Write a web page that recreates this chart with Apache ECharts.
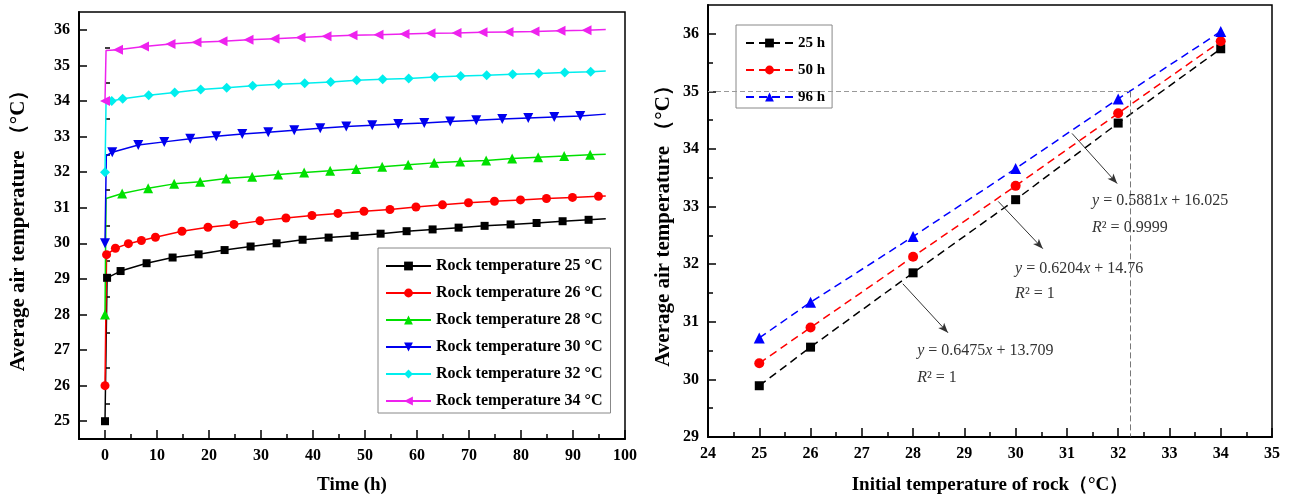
<!DOCTYPE html>
<html>
<head>
<meta charset="utf-8">
<script src="https://cdn.jsdelivr.net/npm/echarts@6/dist/echarts.min.js"></script>
<style>
  html, body { margin: 0; padding: 0; background: #fff; }
  #chart { width: 1290px; height: 502px; }
</style>
</head>
<body>
<div id="chart"></div>
<script>
// ---- left panel: air temperature vs time ----
var timeTicks = [0, 10, 20, 30, 40, 50, 60, 70, 80, 90, 100];
var timeMinor = [5, 15, 25, 35, 45, 55, 65, 75, 85, 95];
var airTicks = [25, 26, 27, 28, 29, 30, 31, 32, 33, 34, 35, 36];
var airMinor = [25.5, 26.5, 27.5, 28.5, 29.5, 30.5, 31.5, 32.5, 33.5, 34.5, 35.5];

var rockNames = ['Rock temperature 25 °C', 'Rock temperature 26 °C', 'Rock temperature 28 °C',
  'Rock temperature 30 °C', 'Rock temperature 32 °C', 'Rock temperature 34 °C'];

// points drawn with a marker
var rock25 = [[0, 25], [0.4, 29.03], [3, 29.22], [8, 29.44], [13, 29.6], [18, 29.69], [23, 29.81], [28, 29.91],
  [33, 30.0], [38, 30.1], [43, 30.16], [48, 30.21], [53, 30.27], [58, 30.34], [63, 30.39], [68, 30.44],
  [73, 30.49], [78, 30.53], [83, 30.57], [88, 30.62], [93, 30.66]];
var rock26 = [[0, 26], [0.3, 29.68], [2, 29.86], [4.5, 29.99], [7, 30.08], [9.7, 30.17], [14.8, 30.34], [19.8, 30.45],
  [24.8, 30.53], [29.8, 30.63], [34.8, 30.71], [39.8, 30.78], [44.8, 30.84], [49.8, 30.9], [54.8, 30.95],
  [59.8, 31.02], [64.9, 31.08], [69.9, 31.14], [74.9, 31.18], [79.9, 31.22], [84.9, 31.26], [89.9, 31.29], [94.9, 31.32]];
var rock28 = [[0, 28], [3.3, 31.4], [8.3, 31.55], [13.3, 31.67], [18.3, 31.73], [23.3, 31.82], [28.3, 31.87],
  [33.3, 31.93], [38.3, 31.99], [43.3, 32.04], [48.3, 32.09], [53.3, 32.15], [58.3, 32.21], [63.3, 32.26],
  [68.3, 32.3], [73.3, 32.33], [78.3, 32.38], [83.3, 32.42], [88.3, 32.45], [93.3, 32.49]];
var rock30 = [[0, 30], [1.4, 32.56], [6.4, 32.76], [11.4, 32.85], [16.4, 32.94], [21.4, 33.01], [26.4, 33.07],
  [31.4, 33.12], [36.4, 33.18], [41.4, 33.23], [46.4, 33.28], [51.4, 33.32], [56.4, 33.35], [61.4, 33.38],
  [66.4, 33.42], [71.4, 33.46], [76.4, 33.49], [81.4, 33.52], [86.4, 33.55], [91.4, 33.58]];
var rock32 = [[0, 32], [1.3, 34.0], [3.4, 34.06], [8.4, 34.16], [13.4, 34.24], [18.4, 34.32], [23.4, 34.37],
  [28.4, 34.43], [33.4, 34.47], [38.4, 34.5], [43.4, 34.53], [48.4, 34.58], [53.4, 34.61], [58.4, 34.63],
  [63.4, 34.67], [68.4, 34.7], [73.4, 34.72], [78.4, 34.75], [83.4, 34.77], [88.4, 34.8], [93.4, 34.82]];
var rock34 = [[0, 34], [2.5, 35.44], [7.5, 35.53], [12.6, 35.6], [17.6, 35.65], [22.6, 35.68], [27.6, 35.72],
  [32.6, 35.75], [37.6, 35.78], [42.6, 35.82], [47.6, 35.85], [52.6, 35.86], [57.6, 35.88], [62.6, 35.9],
  [67.6, 35.91], [72.6, 35.93], [77.6, 35.94], [82.6, 35.95], [87.6, 35.97], [92.6, 35.99]];
// points on the curve without a marker (jump top, curve end)
var rock25Bare = [[96.3, 30.69]];
var rock26Bare = [[96.3, 31.33]];
var rock28Bare = [[0.2, 31.26], [96.3, 32.5]];
var rock30Bare = [[0.25, 32.46], [96.3, 33.63]];
var rock32Bare = [[0.2, 33.97], [96.3, 34.84]];
var rock34Bare = [[0.2, 35.42], [96.3, 36.01]];

// ---- right panel: air temperature vs initial rock temperature ----
var rockInit = [25, 26, 28, 30, 32, 34];
var h25 = [29.89, 30.56, 31.85, 33.12, 34.45, 35.74];
var h50 = [30.28, 30.9, 32.13, 33.36, 34.62, 35.87];
var h96 = [30.72, 31.34, 32.48, 33.66, 34.87, 36.04];
var hourNames = ['25 h', '50 h', '96 h'];
var initTicks = [24, 25, 26, 27, 28, 29, 30, 31, 32, 33, 34, 35];
var initMinor = [24.5, 25.5, 26.5, 27.5, 28.5, 29.5, 30.5, 31.5, 32.5, 33.5, 34.5];
var air2Ticks = [29, 30, 31, 32, 33, 34, 35, 36];
var air2Minor = [29.5, 30.5, 31.5, 32.5, 33.5, 34.5, 35.5];
var refTemp = 32.23, refAir = 35;

var serif = "'Liberation Serif', 'Times New Roman', serif";

function buildCurve(marks, bare) {
  var pts = marks.map(function (p) { return { value: p }; })
    .concat(bare.map(function (p) { return { value: p, symbol: 'none' }; }));
  pts.sort(function (a, b) { return a.value[0] - b.value[0]; });
  return pts;
}

function mainAxis(grid, min, max, ticks, isY) {
  return {
    type: 'value', gridIndex: grid, min: min, max: max,
    axisLine: { show: true, onZero: false, lineStyle: { color: '#000', width: 2 } },
    axisTick: { show: true, inside: true, length: isY ? 8 : 9, customValues: ticks, lineStyle: { color: '#000', width: 1.5 } },
    axisLabel: { customValues: ticks, margin: 9, color: '#000', fontFamily: serif, fontWeight: 'bold', fontSize: 16 },
    splitLine: { show: false }
  };
}
function minorAxis(grid, min, max, ticks) {
  return {
    type: 'value', gridIndex: grid, min: min, max: max,
    axisLine: { show: false },
    axisTick: { show: true, inside: true, length: 5, customValues: ticks, lineStyle: { color: '#000', width: 1.5 } },
    axisLabel: { show: false },
    splitLine: { show: false }
  };
}

var leftGrid = { left: 79, top: 12, width: 546, height: 427 };
var rightGrid = { left: 708, top: 5, width: 564, height: 432 };

var xAxes = [
  mainAxis(0, -5, 100, timeTicks, false),
  minorAxis(1, -5, 100, timeMinor),
  mainAxis(2, 24, 35, initTicks, false),
  minorAxis(3, 24, 35, initMinor)
];
var yAxes = [
  mainAxis(0, 24.5, 36.5, airTicks, true),
  minorAxis(1, 24.5, 36.5, airMinor),
  mainAxis(2, 29, 36.5, air2Ticks, true),
  minorAxis(3, 29, 36.5, air2Minor)
];
var titleStyle = { color: '#000', fontFamily: serif, fontWeight: 'bold', fontSize: 19 };
var yTitleStyle = Object.assign({}, titleStyle, { fontSize: 21 });
xAxes[0].name = 'Time (h)'; xAxes[0].nameLocation = 'middle'; xAxes[0].nameGap = 37; xAxes[0].nameTextStyle = titleStyle;
xAxes[2].name = 'Initial temperature of rock（°C）'; xAxes[2].nameLocation = 'middle'; xAxes[2].nameGap = 39; xAxes[2].nameTextStyle = titleStyle;
yAxes[0].name = 'Average air temperature （°C）'; yAxes[0].nameLocation = 'middle'; yAxes[0].nameGap = 50; yAxes[0].nameTextStyle = yTitleStyle;
yAxes[2].name = 'Average air temperature （°C）'; yAxes[2].nameLocation = 'middle'; yAxes[2].nameGap = 34; yAxes[2].nameTextStyle = yTitleStyle;

var rockColors = ['#000000', '#ff0000', '#00e000', '#0000ee', '#00eeee', '#ee22ee'];
var rockSymbols = ['rect', 'circle', 'triangle', 'triangle', 'diamond', 'triangle'];
var rockRotate = [0, 0, 0, 180, 0, 90];
var rockSizes = [8, 9, 10, 10, 10, 10];
var rockData = [buildCurve(rock25, rock25Bare), buildCurve(rock26, rock26Bare), buildCurve(rock28, rock28Bare),
  buildCurve(rock30, rock30Bare), buildCurve(rock32, rock32Bare), buildCurve(rock34, rock34Bare)];

var series = rockData.map(function (d, i) {
  return {
    name: rockNames[i], type: 'line', xAxisIndex: 0, yAxisIndex: 0, data: d,
    symbol: rockSymbols[i], symbolRotate: rockRotate[i], symbolSize: rockSizes[i], showAllSymbol: true,
    lineStyle: { color: rockColors[i], width: 1.5 },
    itemStyle: { color: rockColors[i] }
  };
});

var hourColors = ['#000000', '#ff0000', '#0000ff'];
var hourSymbols = ['rect', 'circle', 'triangle'];
var hourSizes = [9, 10, 11];
[h25, h50, h96].forEach(function (vals, i) {
  series.push({
    name: hourNames[i], type: 'line', xAxisIndex: 2, yAxisIndex: 2,
    data: rockInit.map(function (x, k) { return [x, vals[k]]; }),
    symbol: hourSymbols[i], symbolSize: hourSizes[i],
    lineStyle: { color: hourColors[i], width: 1.5, type: [8, 5] },
    itemStyle: { color: hourColors[i] }
  });
});

var arrowStyle = { color: '#333', width: 1, type: 'solid' };
function arrow(from, to) {
  return [{ coord: from, symbol: 'none', lineStyle: arrowStyle }, { coord: to, symbol: 'arrow', symbolSize: [6, 10] }];
}
series[6].markLine = {
  silent: true, animation: false, symbol: ['none', 'none'], label: { show: false },
  data: [
    [{ coord: [24, refAir], lineStyle: { color: '#999', type: [5, 3], width: 1.2 } }, { coord: [refTemp, refAir] }],
    [{ coord: [refTemp, refAir], lineStyle: { color: '#555', type: [6, 3], width: 0.8 } }, { coord: [refTemp, 29] }],
    arrow([31.10, 34.27], [31.98, 33.40]),
    arrow([29.66, 33.09], [30.53, 32.27]),
    arrow([27.80, 31.66], [28.68, 30.81])
  ]
};

var legendText = { color: '#000', fontFamily: serif, fontWeight: 'bold', fontSize: 16, lineHeight: 16 };

var chart = echarts.init(document.getElementById('chart'));
chart.setOption({
  animation: false,
  backgroundColor: '#fff',
  grid: [
    Object.assign({ show: true, borderColor: '#000', borderWidth: 1.5 }, leftGrid),
    Object.assign({ show: false }, leftGrid),
    Object.assign({ show: true, borderColor: '#000', borderWidth: 1.5 }, rightGrid),
    Object.assign({ show: false }, rightGrid)
  ],
  xAxis: xAxes,
  yAxis: yAxes,
  legend: [
    {
      data: rockNames, orient: 'vertical', left: 378, top: 248,
      itemWidth: 45, itemHeight: 11, itemGap: 11, padding: [10, 8, 4, 7],
      borderColor: '#888', borderWidth: 1, backgroundColor: '#fff', borderRadius: 0,
      textStyle: legendText, selectedMode: false
    },
    {
      data: hourNames, orient: 'vertical', left: 736, top: 25,
      itemWidth: 47, itemHeight: 11, itemGap: 11, padding: [10, 7, 3, 9],
      borderColor: '#888', borderWidth: 1, backgroundColor: '#fff', borderRadius: 0,
      textStyle: Object.assign({}, legendText, { fontSize: 15 }), selectedMode: false
    }
  ],
  series: series
});

// regression labels, placed in data coordinates of the right panel
var fitLabels = [
  { at: [31.49, 33.10], text: '{i|y} = 0.5881{i|x} + 16.025' },
  { at: [31.49, 32.63], text: '{i|R}² = 0.9999' },
  { at: [29.99, 31.92], text: '{i|y} = 0.6204{i|x} + 14.76' },
  { at: [29.99, 31.49], text: '{i|R}² = 1' },
  { at: [28.08, 30.49], text: '{i|y} = 0.6475{i|x} + 13.709' },
  { at: [28.08, 30.02], text: '{i|R}² = 1' }
];
chart.setOption({
  graphic: fitLabels.map(function (l) {
    var p = chart.convertToPixel({ gridIndex: 2 }, l.at);
    return {
      type: 'text', x: p[0], y: p[1], z: 10,
      style: {
        text: l.text, fill: '#333', fontFamily: serif, fontSize: 16, verticalAlign: 'middle',
        rich: {
          i: { fontStyle: 'italic', fontFamily: serif, fontSize: 16, fill: '#333' }
        }
      }
    };
  })
});
</script>
</body>
</html>
